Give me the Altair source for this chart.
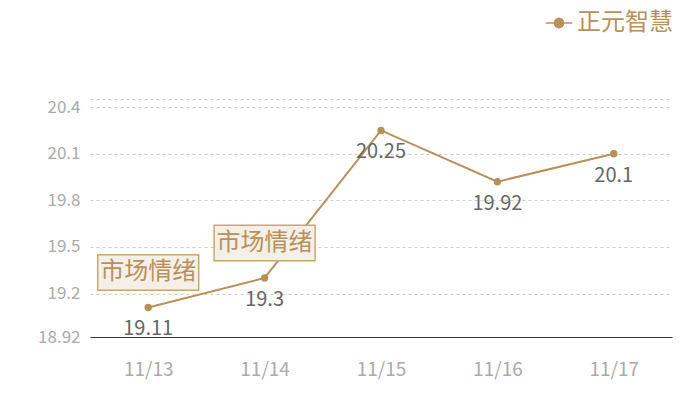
import altair as alt
import pandas as pd

dates = ["11/13", "11/14", "11/15", "11/16", "11/17"]
values = [19.11, 19.3, 20.25, 19.92, 20.1]
notes = ["市场情绪", "市场情绪", "", "", ""]
series = "正元智慧"
y_ticks = [18.92, 19.2, 19.5, 19.8, 20.1, 20.4, 20.4525]
y_domain = [18.92, 20.4525]

TAN = "#b8915a"
FONT = "Noto Sans CJK SC"

df = pd.DataFrame({"date": dates, "value": values, "note": notes, "series": [series] * len(dates)})

x = alt.X("date:N", sort=dates, title=None,
          scale=alt.Scale(paddingInner=0, paddingOuter=0),
          axis=alt.Axis(labelAngle=0, ticks=False, labelPadding=23, labelColor="#aaaaaa",
                        labelFontSize=19, labelFont=FONT, domainColor="#333333", domainWidth=1,
                        grid=False))
y = alt.Y("value:Q", title=None,
          scale=alt.Scale(domain=y_domain, nice=False, zero=False),
          axis=alt.Axis(values=y_ticks, ticks=False, domain=False, labelPadding=10,
                        labelColor="#aaaaaa", labelFontSize=17, labelFont=FONT,
                        gridColor="#cccccc", gridDash=[3, 3], gridWidth=1,
                        labelExpr="datum.value > 20.42 ? '' : (datum.value < 19 ? '18.92' : format(datum.value, '.1f'))"))

legend_symbol = "M-1,0 L1,0 M-0.35,0 A0.35,0.35 0 1,1 0.35,0 A0.35,0.35 0 1,1 -0.35,0 Z"

color = alt.Color("series:N", scale=alt.Scale(range=[TAN]), title=None,
                  legend=alt.Legend(orient="none", legendX=455, legendY=-90,
                                    symbolType=legend_symbol, symbolSize=700,
                                    symbolStrokeWidth=1.5, symbolFillColor=TAN, symbolStrokeColor=TAN,
                                    labelColor=TAN, labelFontSize=24, labelFont=FONT,
                                    labelOffset=4, labelLimit=200))

base = alt.Chart(df).encode(x=x, y=y)

line = base.mark_line(strokeWidth=2, color=TAN).encode(color=color)
pts = base.mark_point(filled=True, size=55, opacity=1, color=TAN)
labels = base.mark_text(dy=22, fontSize=20, color="#666666", font=FONT).encode(text="value:Q")

box_shape = "M-1,-0.35 L1,-0.35 L1,0.35 L-1,0.35 Z"
ann = base.transform_filter("datum.note != ''")
boxes = ann.mark_point(shape=box_shape, size=10201, filled=False, fill="#f4efe7", fillOpacity=1,
                       stroke="#c9a66f", strokeWidth=1.5, opacity=1, yOffset=-35)
ann_text = ann.mark_text(dy=-35, fontSize=24, color=TAN, font=FONT).encode(text="note:N")

chart = alt.layer(line, pts, labels, boxes, ann_text).properties(
    width=582, height=238,
    autosize=alt.AutoSizeParams(type="none"),
    padding={"left": 82, "top": 91, "right": 20, "bottom": 55},
).configure(font=FONT).configure_view(stroke=None)

chart.save("out.html", embed_options={"renderer": "svg", "actions": False})
